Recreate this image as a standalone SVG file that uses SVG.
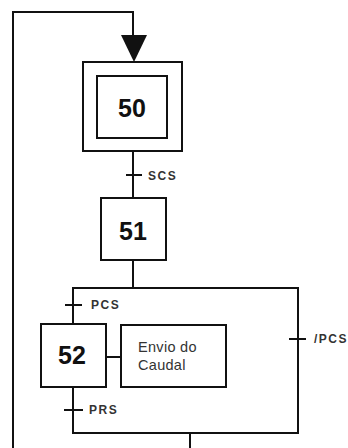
<svg xmlns="http://www.w3.org/2000/svg" width="348" height="448" viewBox="0 0 348 448">
<style>
.ln{fill:none;stroke:#111;stroke-width:2}
.bx{fill:#fff;stroke:#111;stroke-width:2}
.num{font-family:"Liberation Sans",Arial,sans-serif;font-weight:bold;font-size:25px;fill:#111;text-anchor:middle;dominant-baseline:central}
.lbl{font-family:"Liberation Sans",Arial,sans-serif;font-weight:bold;font-size:12px;fill:#333;dominant-baseline:central;letter-spacing:1.5px}
.act{font-family:"Liberation Sans",Arial,sans-serif;font-size:14.5px;fill:#333;letter-spacing:0.3px}
</style>
<rect width="348" height="448" fill="#fff"/>
<g id="connectors">
<polyline class="ln" points="13,448 13,12 133,12 133,40"/>
<polygon points="121,35 147,35 134,62" fill="#111"/>
<line class="ln" x1="133" y1="151" x2="133" y2="198"/>
<line class="ln" x1="126" y1="175" x2="142" y2="175"/>
<text class="lbl" x="148" y="176">SCS</text>
<line class="ln" x1="133" y1="260" x2="133" y2="288"/>
<polyline class="ln" points="73,324 73,288 298,288 298,433 73,433 73,387"/>
<line class="ln" x1="65" y1="305" x2="82" y2="305"/>
<text class="lbl" x="91" y="305">PCS</text>
<line class="ln" x1="64" y1="410" x2="83" y2="410"/>
<text class="lbl" x="89" y="410">PRS</text>
<line class="ln" x1="289" y1="339" x2="306" y2="339"/>
<text class="lbl" x="314" y="339">/PCS</text>
<line class="ln" x1="190" y1="433" x2="190" y2="448"/>
<line class="ln" x1="106" y1="357" x2="121" y2="357"/>
</g>
<g id="step50">
<rect class="bx" x="83" y="62" width="99" height="89"/>
<rect class="bx" x="97" y="76" width="70" height="62"/>
<text class="num" x="132" y="108">50</text>
</g>
<g id="step51">
<rect class="bx" x="101" y="198" width="65" height="62"/>
<text class="num" x="133" y="231">51</text>
</g>
<g id="step52">
<rect class="bx" x="41" y="324" width="65" height="63"/>
<text class="num" x="72" y="355">52</text>
</g>
<g id="action52">
<rect class="bx" x="121" y="325" width="105" height="62"/>
<text class="act" x="138" y="352">Envio do</text>
<text class="act" x="138" y="370">Caudal</text>
</g>
</svg>
